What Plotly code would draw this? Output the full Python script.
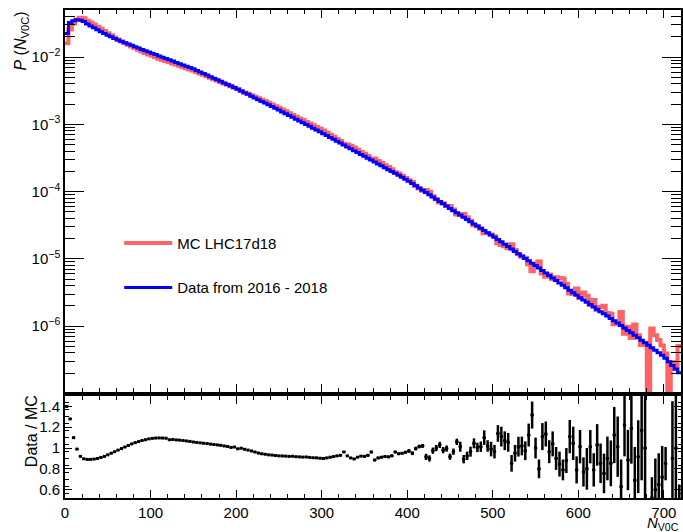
import plotly.graph_objects as go

# N_V0C bin edges: 180 bins of width 4 from 0 to 720
bin_edges = list(range(0, 724, 4))

# Data (2016-2018) probability per bin
data_p = [
    2.25e-2, 3.28e-2, 3.46e-2, 3.59e-2, 3.53e-2, 3.39e-2, 3.10e-2, 2.90e-2, 2.72e-2, 2.54e-2,
    2.39e-2, 2.25e-2, 2.12e-2, 2.00e-2, 1.89e-2, 1.79e-2, 1.71e-2, 1.64e-2, 1.56e-2, 1.50e-2,
    1.43e-2, 1.36e-2, 1.30e-2, 1.24e-2, 1.19e-2, 1.14e-2, 1.09e-2, 1.04e-2, 9.95e-3, 9.53e-3,
    9.10e-3, 8.71e-3, 8.34e-3, 7.98e-3, 7.62e-3, 7.29e-3, 6.98e-3, 6.68e-3, 6.34e-3, 6.01e-3,
    5.69e-3, 5.40e-3, 5.12e-3, 4.85e-3, 4.60e-3, 4.36e-3, 4.13e-3, 3.92e-3, 3.72e-3, 3.52e-3,
    3.33e-3, 3.13e-3, 2.95e-3, 2.79e-3, 2.62e-3, 2.47e-3, 2.33e-3, 2.19e-3, 2.07e-3, 1.95e-3,
    1.84e-3, 1.73e-3, 1.63e-3, 1.53e-3, 1.44e-3, 1.35e-3, 1.27e-3, 1.19e-3, 1.12e-3, 1.06e-3,
    9.93e-4, 9.33e-4, 8.77e-4, 8.24e-4, 7.74e-4, 7.26e-4, 6.81e-4, 6.38e-4, 5.98e-4, 5.61e-4,
    5.26e-4, 4.93e-4, 4.62e-4, 4.34e-4, 4.06e-4, 3.81e-4, 3.57e-4, 3.35e-4, 3.14e-4, 2.94e-4,
    2.75e-4, 2.58e-4, 2.42e-4, 2.27e-4, 2.12e-4, 1.99e-4, 1.87e-4, 1.75e-4, 1.64e-4, 1.53e-4,
    1.43e-4, 1.32e-4, 1.22e-4, 1.13e-4, 1.05e-4, 9.68e-5, 8.97e-5, 8.30e-5, 7.67e-5, 7.10e-5,
    6.58e-5, 6.08e-5, 5.62e-5, 5.21e-5, 4.83e-5, 4.49e-5, 4.16e-5, 3.85e-5, 3.57e-5, 3.31e-5,
    3.08e-5, 2.85e-5, 2.64e-5, 2.45e-5, 2.27e-5, 2.10e-5, 1.94e-5, 1.79e-5, 1.65e-5, 1.52e-5,
    1.40e-5, 1.29e-5, 1.19e-5, 1.10e-5, 1.01e-5, 9.33e-6, 8.61e-6, 7.94e-6, 7.29e-6, 6.70e-6,
    6.17e-6, 5.66e-6, 5.20e-6, 4.78e-6, 4.39e-6, 4.04e-6, 3.71e-6, 3.40e-6, 3.13e-6, 2.87e-6,
    2.65e-6, 2.44e-6, 2.26e-6, 2.09e-6, 1.93e-6, 1.78e-6, 1.64e-6, 1.52e-6, 1.41e-6, 1.30e-6,
    1.20e-6, 1.11e-6, 1.02e-6, 9.40e-7, 8.63e-7, 7.94e-7, 7.29e-7, 6.70e-7, 6.15e-7, 5.65e-7,
    5.20e-7, 4.78e-7, 4.39e-7, 4.03e-7, 3.70e-7, 3.33e-7, 2.94e-7, 2.60e-7, 2.30e-7, 2.03e-7,
]

# Data / MC ratio per bin (None = empty MC bin)
ratio = [
    1.40, 1.28, 1.10, 0.99, 0.92, 0.897, 0.891, 0.891, 0.894, 0.900,
    0.910, 0.920, 0.935, 0.950, 0.965, 0.980, 0.995, 1.010, 1.025, 1.040,
    1.052, 1.062, 1.072, 1.080, 1.088, 1.093, 1.096, 1.097, 1.096, 1.094,
    1.080, 1.082, 1.078, 1.076, 1.072, 1.068, 1.064, 1.058, 1.054, 1.050,
    1.046, 1.043, 1.038, 1.034, 1.030, 1.026, 1.020, 1.015, 1.006, 1.010,
    0.993, 0.998, 0.988, 0.980, 0.972, 0.962, 0.952, 0.945, 0.940, 0.935,
    0.932, 0.928, 0.925, 0.924, 0.922, 0.920, 0.921, 0.917, 0.915, 0.913,
    0.914, 0.910, 0.907, 0.906, 0.902, 0.900, 0.905, 0.912, 0.918, 0.925,
    0.930, 0.962, 0.925, 0.905, 0.895, 0.912, 0.922, 0.920, 0.930, 0.962,
    0.885, 0.905, 0.912, 0.918, 0.915, 0.925, 0.962, 0.945, 0.950, 0.960,
    0.972, 0.950, 0.995, 1.015, 1.020, 0.915, 0.900, 0.975, 1.000, 1.030,
    0.980, 0.995, 0.917, 0.965, 1.060, 1.013, 0.893, 0.925, 0.965, 1.045,
    1.006, 1.013, 1.100, 1.020, 0.990, 0.965, 1.140, 1.110, 1.070, 1.055,
    0.853, 0.950, 1.013, 1.020, 0.974, 1.125, 1.317, 1.000, 0.800, 1.110,
    1.135, 0.965, 1.040, 0.900, 0.846, 0.790, 0.880, 1.110, 1.045, 0.790,
    1.013, 0.770, 0.800, 1.013, 0.790, 1.030, 0.853, 0.756, 0.900, 0.853,
    1.125, 1.013, 0.630, 1.220, 0.885, 1.190, 0.690, 0.917, 1.170, 1.000,
    None, 0.520, 0.600, 0.650, 0.720, 0.850, None, 0.900, 1.000, 0.400,
]

# Half-length of the ratio error bars
ratio_err = [
    0.010, 0.008, 0.005, 0.004, 0.004, 0.004, 0.004, 0.004, 0.004, 0.004,
    0.004, 0.004, 0.004, 0.004, 0.004, 0.004, 0.004, 0.004, 0.004, 0.004,
    0.004, 0.004, 0.004, 0.004, 0.004, 0.004, 0.004, 0.004, 0.004, 0.004,
    0.004, 0.004, 0.004, 0.004, 0.004, 0.004, 0.004, 0.004, 0.004, 0.004,
    0.004, 0.004, 0.004, 0.004, 0.004, 0.004, 0.004, 0.004, 0.004, 0.004,
    0.004, 0.004, 0.004, 0.004, 0.004, 0.004, 0.004, 0.004, 0.004, 0.004,
    0.004, 0.004, 0.004, 0.004, 0.004, 0.004, 0.004, 0.004, 0.004, 0.004,
    0.005, 0.005, 0.005, 0.005, 0.005, 0.007, 0.007, 0.007, 0.007, 0.007,
    0.007, 0.007, 0.007, 0.007, 0.007, 0.007, 0.007, 0.012, 0.012, 0.012,
    0.012, 0.012, 0.012, 0.012, 0.012, 0.012, 0.012, 0.012, 0.012, 0.012,
    0.018, 0.018, 0.018, 0.018, 0.018, 0.030, 0.030, 0.030, 0.030, 0.030,
    0.030, 0.030, 0.030, 0.030, 0.030, 0.048, 0.040, 0.040, 0.048, 0.048,
    0.045, 0.050, 0.070, 0.055, 0.070, 0.065, 0.080, 0.095, 0.090, 0.090,
    0.080, 0.080, 0.095, 0.090, 0.090, 0.110, 0.130, 0.100, 0.090, 0.130,
    0.120, 0.110, 0.120, 0.110, 0.120, 0.100, 0.120, 0.160, 0.160, 0.130,
    0.160, 0.140, 0.200, 0.160, 0.160, 0.200, 0.190, 0.190, 0.210, 0.220,
    0.270, 0.290, 0.260, 0.300, 0.290, 0.340, 0.320, 0.350, 0.480, 0.600,
    None, 0.200, 0.300, 0.300, 0.300, 0.160, None, 0.550, 0.500, 0.250,
]

y_major_ticks = [1e-6, 1e-5, 1e-4, 1e-3, 1e-2]
y_major_text = ["10<sup>\u22126</sup>", "10<sup>\u22125</sup>", "10<sup>\u22124</sup>",
                "10<sup>\u22123</sup>", "10<sup>\u22122</sup>"]
ratio_ticks = [0.6, 0.8, 1.0, 1.2, 1.4]
ratio_ticktext = ["0.6", "0.8", "1", "1.2", "1.4"]

# ---- derived plotting arrays ----
EMPTY_FLOOR = 1e-9  # empty MC bins are drawn below the axis floor
mc_p = [d / r if r is not None else EMPTY_FLOOR for d, r in zip(data_p, ratio)]
centers = [(a + b) / 2 for a, b in zip(bin_edges[:-1], bin_edges[1:])]
half_w = [(b - a) / 2 for a, b in zip(bin_edges[:-1], bin_edges[1:])]


def steps(vals):
    return list(vals) + [vals[-1]]


minor_log = [k * 10.0 ** e for e in range(-8, 0) for k in range(2, 10)]
minor_ratio = [0.5 + i * 0.2 / 3 for i in range(0, 16)]

fig = go.Figure()
fig.add_trace(go.Scatter(
    x=bin_edges, y=steps(mc_p), mode="lines",
    line=dict(shape="hv", color="#ff6464", width=4),
    name="MC LHC17d18", legendgroup="mc", xaxis="x", yaxis="y"))
fig.add_trace(go.Scatter(
    x=bin_edges, y=steps(data_p), mode="lines",
    line=dict(shape="hv", color="#0000ff", width=3),
    name="Data from 2016 - 2018", legendgroup="data", xaxis="x", yaxis="y"))
fig.add_trace(go.Scatter(
    x=centers, y=ratio, mode="markers",
    marker=dict(symbol="square", size=3, color="black"),
    error_y=dict(type="data", array=ratio_err, color="black", thickness=2.5, width=0),
    error_x=dict(type="data", array=half_w, color="black", thickness=1.5, width=0),
    showlegend=False, xaxis="x2", yaxis="y2"))

axis_common = dict(showgrid=False, zeroline=False, showline=True, linecolor="black",
                   tickcolor="black", ticks="inside", mirror="allticks")

fig.update_layout(
    width=683, height=532,
    margin=dict(l=65, r=0, t=10, b=34),
    paper_bgcolor="white", plot_bgcolor="white",
    font=dict(family="Liberation Sans, Arial, sans-serif", size=15, color="black"),
    showlegend=True,
    legend=dict(x=0.088, y=0.556, xanchor="left", yanchor="top",
                bgcolor="rgba(0,0,0,0)", font=dict(size=15),
                tracegroupgap=22, itemwidth=48, traceorder="grouped"),
    xaxis=dict(domain=[0, 1], range=[0, 720], anchor="y", showticklabels=False,
               tickmode="linear", tick0=0, dtick=100, ticklen=8, tickwidth=1,
               minor=dict(ticks="inside", dtick=20, tick0=0, ticklen=4, tickcolor="black"),
               linewidth=1.5, **axis_common),
    yaxis=dict(domain=[0.2172, 1], type="log", range=[-6.98, -1.30], anchor="x",
               tickmode="array", tickvals=y_major_ticks, ticktext=y_major_text,
               ticklen=19, tickwidth=1,
               minor=dict(ticks="inside", tickvals=minor_log, ticklen=10, tickcolor="black"),
               linewidth=1.5, **axis_common),
    xaxis2=dict(domain=[0, 1], range=[0, 720], anchor="y2",
                tickmode="linear", tick0=0, dtick=100, ticklen=8, tickwidth=1,
                minor=dict(ticks="inside", dtick=20, tick0=0, ticklen=4, tickcolor="black"),
                linewidth=2, **axis_common),
    yaxis2=dict(domain=[0, 0.209], range=[0.52, 1.50], anchor="x2",
                tickmode="array", tickvals=ratio_ticks, ticktext=ratio_ticktext,
                ticklen=7, tickwidth=1,
                minor=dict(ticks="inside", tickvals=minor_ratio, ticklen=3.5, tickcolor="black"),
                linewidth=2, **axis_common),
    annotations=[
        dict(text="<i>P</i> (<i>N</i><sub>V0C</sub>)", xref="paper", yref="paper",
             x=0, y=1, xshift=-44, xanchor="center", yanchor="top", textangle=-90,
             showarrow=False, font=dict(size=16)),
        dict(text="Data / MC", xref="paper", yref="paper",
             x=0, y=0.137, xshift=-34, xanchor="center", yanchor="middle", textangle=-90,
             showarrow=False, font=dict(size=16)),
        dict(text="<i>N</i><sub>V0C</sub>", xref="paper", yref="paper",
             x=1, y=0, xanchor="right", yanchor="top", yshift=-14,
             showarrow=False, font=dict(size=15)),
    ],
)

fig.write_html(
    "out.html",
    config={"displayModeBar": False},
    post_script="document.body.style.margin='0px';document.body.style.overflow='hidden';",
)
